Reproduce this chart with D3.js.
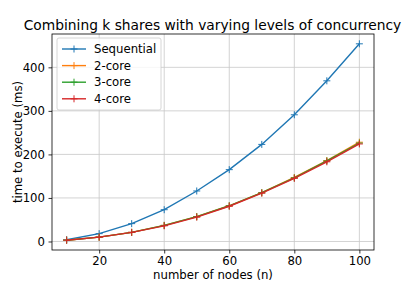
<!DOCTYPE html>
<html>
<head>
<meta charset="utf-8">
<script src="https://cdn.jsdelivr.net/npm/d3@7"></script>
<style>
  body { margin: 0; background: #fff; }
  svg { font-family: "DejaVu Sans", sans-serif; }
</style>
</head>
<body>
<svg id="chart"></svg>
<script>
const nodes = [10, 20, 30, 40, 50, 60, 70, 80, 90, 100];
const sequential = [4, 18, 41, 73, 116, 165, 223, 291, 369, 454];
const core2 = [3, 10, 21, 37, 57, 82, 112, 147, 186, 228];
const core3 = [3, 10, 21, 37, 57, 82, 112, 146, 185, 226];
const core4 = [3, 10, 21, 36, 56, 81, 111, 145, 183, 224];
const seriesNames = ["Sequential", "2-core", "3-core", "4-core"];
const xTicks = [20, 40, 60, 80, 100];
const yTicks = [0, 100, 200, 300, 400];

const width = 416, height = 282;
const margin = { left: 52, right: 42, top: 34, bottom: 32 };
const fs = 11.7;
const svg = d3.select("#chart").attr("width", width).attr("height", height);

const series = [sequential, core2, core3, core4].map((vals, i) => ({
  name: seriesNames[i],
  values: vals.map((v, j) => ({ x: nodes[j], y: v }))
}));
const color = d3.scaleOrdinal()
  .domain(seriesNames)
  .range(["#1f77b4", "#ff7f0e", "#2ca02c", "#d62728"]);

// matplotlib-style 5% padding
const xMin = d3.min(nodes), xMax = d3.max(nodes);
const allY = [].concat(sequential, core2, core3, core4);
const yMin = d3.min(allY), yMax = d3.max(allY);
const xPad = (xMax - xMin) * 0.05, yPad = (yMax - yMin) * 0.05;

const x = d3.scaleLinear()
  .domain([xMin - xPad, xMax + xPad])
  .range([margin.left, width - margin.right]);
const y = d3.scaleLinear()
  .domain([yMin - yPad, yMax + yPad])
  .range([height - margin.bottom, margin.top]);

// grid
svg.append("g").selectAll("line.gx")
  .data(xTicks).join("line")
  .attr("x1", d => x(d)).attr("x2", d => x(d))
  .attr("y1", margin.top).attr("y2", height - margin.bottom)
  .attr("stroke", "#c8c8c8").attr("stroke-width", 0.8);
svg.append("g").selectAll("line.gy")
  .data(yTicks).join("line")
  .attr("y1", d => y(d)).attr("y2", d => y(d))
  .attr("x1", margin.left).attr("x2", width - margin.right)
  .attr("stroke", "#c8c8c8").attr("stroke-width", 0.8);

// axes
const xAxis = svg.append("g")
  .attr("transform", `translate(0,${height - margin.bottom})`)
  .call(d3.axisBottom(x).tickValues(xTicks).tickSize(3.5).tickPadding(3.5));
const yAxis = svg.append("g")
  .attr("transform", `translate(${margin.left},0)`)
  .call(d3.axisLeft(y).tickValues(yTicks).tickSize(3.5).tickPadding(3.5));
[xAxis, yAxis].forEach(a => {
  a.select(".domain").remove();
  a.selectAll("text").attr("font-size", fs).attr("font-family", "DejaVu Sans").attr("fill", "#000");
  a.selectAll("line").attr("stroke", "#000").attr("stroke-width", 0.8);
});

// frame
svg.append("rect")
  .attr("x", margin.left).attr("y", margin.top)
  .attr("width", width - margin.left - margin.right)
  .attr("height", height - margin.top - margin.bottom)
  .attr("fill", "none").attr("stroke", "#000").attr("stroke-width", 0.8);

// lines
const line = d3.line().x(d => x(d.x)).y(d => y(d.y));
const plot = svg.append("g");
series.forEach(s => {
  plot.append("path")
    .datum(s.values)
    .attr("d", line)
    .attr("fill", "none")
    .attr("stroke", color(s.name))
    .attr("stroke-width", 1.4);
  plot.selectAll(null)
    .data(s.values).join("path")
    .attr("d", d => `M${x(d.x) - 3.5},${y(d.y)}h7M${x(d.x)},${y(d.y) - 3.5}v7`)
    .attr("stroke", color(s.name))
    .attr("stroke-width", 1);
});

// title and labels
svg.append("text")
  .attr("x", (margin.left + width - margin.right) / 2 - 0.5)
  .attr("y", 30)
  .attr("text-anchor", "middle")
  .attr("font-size", 13.8)
  .text("Combining k shares with varying levels of concurrency");
svg.append("text")
  .attr("x", (margin.left + width - margin.right) / 2)
  .attr("y", 278.5)
  .attr("text-anchor", "middle")
  .attr("font-size", fs)
  .text("number of nodes (n)");
svg.append("text")
  .attr("transform", `translate(21.5,${(margin.top + height - margin.bottom) / 2}) rotate(-90)`)
  .attr("text-anchor", "middle")
  .attr("font-size", fs)
  .text("time to execute (ms)");

// legend
const legend = svg.append("g").attr("transform", `translate(${margin.left + 5},${margin.top + 4})`);
legend.append("rect")
  .attr("width", 104).attr("height", 72).attr("rx", 2)
  .attr("fill", "#fff").attr("fill-opacity", 0.8)
  .attr("stroke", "#cccccc").attr("stroke-width", 0.8);
seriesNames.forEach((name, i) => {
  const ly = 11 + i * 16.6;
  legend.append("line")
    .attr("x1", 5).attr("x2", 29).attr("y1", ly).attr("y2", ly)
    .attr("stroke", color(name)).attr("stroke-width", 1.4);
  legend.append("path")
    .attr("d", `M13.5,${ly}h7M17,${ly - 3.5}v7`)
    .attr("stroke", color(name)).attr("stroke-width", 1);
  legend.append("text")
    .attr("x", 37).attr("y", ly).attr("dy", "0.35em")
    .attr("font-size", fs)
    .text(name);
});
</script>
</body>
</html>
